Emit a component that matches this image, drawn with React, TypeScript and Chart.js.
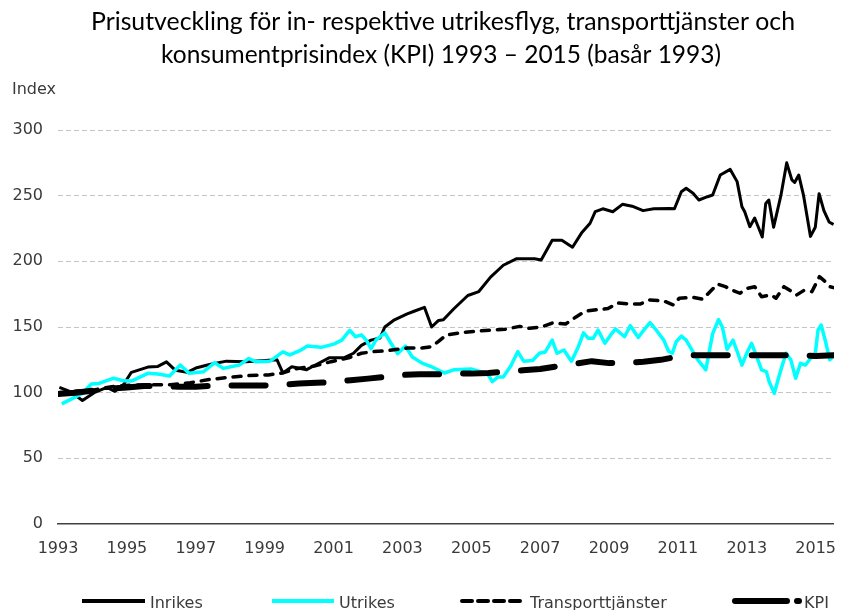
import React, { useEffect, useRef } from "react";
import { Chart, registerables } from "chart.js";

Chart.register(...registerables);

const titleLines = [
  "Prisutveckling för in- respektive utrikesflyg, transporttjänster och",
  "konsumentprisindex (KPI) 1993 – 2015 (basår 1993)",
];
const yAxisLabel = "Index";
const seriesNames = ["Inrikes", "Utrikes", "Transporttjänster", "KPI"];
const xTickYears = [1993, 1995, 1997, 1999, 2001, 2003, 2005, 2007, 2009, 2011, 2013, 2015];
const yMin = 0;
const yMax = 300;
const yStep = 50;

const inrikesYears = [1993.04, 1993.34, 1993.71, 1994.05, 1994.42, 1994.65, 1994.9, 1995.13, 1995.61, 1995.9, 1996.15, 1996.41, 1996.75, 1997.03, 1997.4, 1997.89, 1998.45, 1999.02, 1999.36, 1999.53, 1999.79, 2000.22, 2000.53, 2000.87, 2001.3, 2001.58, 2001.81, 2002.09, 2002.35, 2002.49, 2002.77, 2003.14, 2003.34, 2003.64, 2003.85, 2004.05, 2004.19, 2004.48, 2004.9, 2005.22, 2005.56, 2005.93, 2006.32, 2006.84, 2007.03, 2007.35, 2007.63, 2007.94, 2008.2, 2008.45, 2008.6, 2008.82, 2009.11, 2009.39, 2009.67, 2009.99, 2010.3, 2010.76, 2010.9, 2011.1, 2011.24, 2011.44, 2011.61, 2011.86, 2012.01, 2012.23, 2012.52, 2012.72, 2012.86, 2012.94, 2013.09, 2013.23, 2013.45, 2013.55, 2013.64, 2013.78, 2013.99, 2014.16, 2014.31, 2014.39, 2014.51, 2014.65, 2014.85, 2014.99, 2015.1, 2015.24, 2015.39, 2015.52];
const inrikesValues = [104, 101, 94, 100, 104, 101, 106, 115.5, 119.5, 120, 123.5, 117, 115.5, 119, 121.5, 124, 123.5, 124.5, 125, 115, 119.8, 117.5, 121.8, 126.5, 126.5, 130, 136, 140, 141.6, 150, 155.5, 160, 162, 165, 150, 155, 155.5, 163.5, 174, 177, 188, 197, 202, 202, 201, 216, 216, 210.7, 221.5, 229, 237.8, 240, 237.8, 243.4, 242, 238.6, 240, 240.3, 240, 253, 255.6, 251.8, 246.7, 249.2, 250.5, 265.7, 270, 260.7, 241.6, 237.8, 226.4, 233, 218.5, 244, 246.7, 226, 250, 275, 262, 260, 265.7, 250, 219, 226, 251.5, 238.6, 230, 228];

const utrikesYears = [1993.11, 1993.71, 1993.97, 1994.19, 1994.62, 1994.9, 1995.13, 1995.61, 1995.9, 1996.24, 1996.55, 1996.81, 1997.23, 1997.55, 1997.8, 1998.26, 1998.54, 1998.74, 1999.16, 1999.53, 1999.73, 2000.02, 2000.24, 2000.64, 2001.01, 2001.24, 2001.47, 2001.64, 2001.81, 2001.95, 2002.09, 2002.23, 2002.49, 2002.66, 2002.86, 2003.09, 2003.28, 2003.57, 2003.91, 2004.22, 2004.51, 2004.99, 2005.27, 2005.47, 2005.61, 2005.78, 2005.93, 2006.15, 2006.35, 2006.52, 2006.78, 2006.98, 2007.15, 2007.35, 2007.49, 2007.69, 2007.91, 2008.11, 2008.26, 2008.4, 2008.54, 2008.68, 2008.88, 2009.05, 2009.19, 2009.45, 2009.62, 2009.85, 2010.02, 2010.19, 2010.39, 2010.59, 2010.73, 2010.84, 2010.95, 2011.1, 2011.24, 2011.38, 2011.58, 2011.81, 2012.01, 2012.18, 2012.29, 2012.43, 2012.6, 2012.74, 2012.86, 2013.0, 2013.14, 2013.28, 2013.43, 2013.57, 2013.65, 2013.8, 2013.91, 2013.99, 2014.14, 2014.28, 2014.42, 2014.56, 2014.7, 2014.85, 2014.99, 2015.07, 2015.16, 2015.3, 2015.41, 2015.52];
const utrikesValues = [91.5, 99.5, 106.6, 107, 111, 109, 108.8, 114.7, 114.2, 112.7, 121, 114.7, 116, 122.8, 118.5, 121, 126, 123.6, 124, 131, 128.7, 132, 135.5, 134.5, 137, 140, 147.5, 142.6, 144, 140, 133.5, 140, 145.5, 138, 129.7, 135.5, 127.4, 122.5, 119, 115, 117.5, 118, 116, 114.7, 108.4, 112, 112, 120.5, 131.2, 124, 124.5, 130, 131, 140, 130, 132.5, 124, 135, 145.5, 141.4, 141.4, 147.7, 137.6, 144, 148.5, 142.6, 151, 142, 148, 153.3, 147, 140, 131.5, 130, 138.8, 143, 140, 133.8, 125, 117.3, 145, 155.6, 150, 133, 140, 130, 121, 130, 137.6, 128, 117.3, 116, 108.4, 99.5, 110, 117.3, 130, 125, 111, 122.3, 121, 126, 130, 147.7, 151.5, 137.6, 125, 128];

const transportYears = [1993.0, 1993.48, 1994.05, 1994.56, 1995.13, 1995.9, 1996.27, 1996.84, 1997.4, 1997.97, 1998.54, 1999.11, 1999.51, 1999.88, 2000.44, 2000.93, 2001.44, 2001.81, 2002.15, 2002.57, 2003.14, 2003.57, 2003.85, 2004.05, 2004.28, 2004.79, 2005.41, 2005.98, 2006.41, 2006.69, 2007.06, 2007.35, 2007.74, 2008.03, 2008.31, 2008.68, 2008.97, 2009.25, 2009.62, 2009.9, 2010.19, 2010.59, 2010.87, 2011.04, 2011.44, 2011.72, 2011.89, 2012.15, 2012.38, 2012.57, 2012.8, 2013.03, 2013.23, 2013.43, 2013.71, 2013.85, 2014.08, 2014.31, 2014.45, 2014.65, 2014.89, 2015.11, 2015.28, 2015.41, 2015.52];
const transportValues = [100, 101, 102, 104.6, 105.8, 106, 106, 107.6, 110, 111.7, 113, 113.5, 115, 118, 120.3, 123.6, 126.5, 130, 131.2, 132, 134, 134, 135, 139, 144, 146, 147.3, 148.3, 150.5, 149, 150.2, 153, 152.3, 157.5, 162, 163.3, 164, 168.3, 167.5, 167.5, 170.6, 169.8, 166.8, 171.9, 172.6, 171.1, 175.7, 182.7, 180.7, 178.2, 175.7, 179.5, 180.7, 173.1, 174.4, 171.9, 180.7, 176.9, 174.4, 177.7, 176.9, 188.3, 184.5, 180.7, 180];

const kpiYears = [1993.0, 1993.5, 1994.0, 1994.5, 1995.0, 1995.5, 1996.0, 1996.5, 1997.0, 1997.5, 1998.0, 1998.5, 1999.0, 1999.5, 2000.0, 2000.5, 2001.0, 2001.5, 2002.0, 2002.5, 2003.0, 2003.5, 2004.0, 2004.5, 2005.0, 2005.5, 2006.0, 2006.5, 2007.0, 2007.5, 2008.0, 2008.5, 2009.0, 2009.5, 2010.0, 2010.5, 2011.0, 2011.5, 2012.0, 2012.5, 2013.0, 2013.5, 2014.0, 2014.5, 2015.0, 2015.52];
const kpiValues = [99, 100, 101.5, 103, 104, 105, 105, 104.5, 104.5, 105.3, 105.5, 105.5, 105.5, 106, 107, 107.5, 108, 109.5, 110.7, 112, 113.5, 114, 114, 114.5, 114.5, 115, 116, 117, 118, 120, 122, 124, 122.5, 122.5, 123.5, 125, 127.5, 128.5, 128.5, 128.5, 128.5, 128.5, 128.5, 128.5, 128, 128.5];

function toPoints(xs: number[], ys: number[]) {
  const n = Math.min(xs.length, ys.length);
  const pts: { x: number; y: number }[] = [];
  for (let i = 0; i < n; i++) pts.push({ x: xs[i], y: ys[i] });
  return pts;
}

const TICK_FONT = "DejaVu Sans";
const TEXT_COLOR = "#3a3a3a";

const legendStyles = [
  { startX: 82, sample: 63, dash: [] as number[], cap: "butt" as CanvasLineCap },
  { startX: 272, sample: 62, dash: [] as number[], cap: "butt" as CanvasLineCap },
  { startX: 462, sample: 63, dash: [10, 6], cap: "round" as CanvasLineCap },
  { startX: 735, sample: 64, dash: [52, 10], cap: "round" as CanvasLineCap },
];

const decorPlugin = {
  id: "decor",
  afterDraw(chart: any) {
    const ctx: CanvasRenderingContext2D = chart.ctx;
    ctx.save();
    // Title
    ctx.fillStyle = "#000";
    ctx.textAlign = "center";
    ctx.textBaseline = "alphabetic";
    ctx.font = "25px Lato";
    ctx.fillText(titleLines[0], 443, 30, 704);
    ctx.fillText(titleLines[1], 441, 63, 560);
    // y label
    ctx.textAlign = "left";
    ctx.fillStyle = TEXT_COLOR;
    ctx.font = `16px "${TICK_FONT}"`;
    ctx.fillText(yAxisLabel, 12, 94);
    // Legend
    const ly = 601;
    chart.data.datasets.forEach((ds: any, i: number) => {
      const st = legendStyles[i];
      ctx.save();
      ctx.strokeStyle = ds.borderColor;
      ctx.lineWidth = i === 3 ? 6 : 4;
      ctx.lineCap = st.cap;
      ctx.setLineDash(st.dash);
      ctx.beginPath();
      ctx.moveTo(st.startX, ly);
      ctx.lineTo(st.startX + st.sample, ly);
      ctx.stroke();
      ctx.restore();
      ctx.fillStyle = TEXT_COLOR;
      ctx.font = `16px "${TICK_FONT}"`;
      ctx.textAlign = "left";
      ctx.fillText(ds.label, st.startX + st.sample + 5, 608);
    });
    ctx.restore();
  },
};

export default function App() {
  const ref = useRef<HTMLCanvasElement>(null);
  useEffect(() => {
    document.body.style.margin = "0";
    document.body.style.overflow = "hidden";
    const canvas = ref.current;
    if (!canvas) return;
    const chart = new Chart(canvas, {
      type: "line",
      data: {
        datasets: [
          {
            label: seriesNames[0],
            data: toPoints(inrikesYears, inrikesValues),
            borderColor: "#000000",
            borderWidth: 3,
            pointRadius: 0,
            borderJoinStyle: "round",
            order: 3,
          },
          {
            label: seriesNames[1],
            data: toPoints(utrikesYears, utrikesValues),
            borderColor: "#00FFFF",
            borderWidth: 3.5,
            pointRadius: 0,
            borderJoinStyle: "round",
            order: 2,
          },
          {
            label: seriesNames[2],
            data: toPoints(transportYears, transportValues),
            borderColor: "#000000",
            borderWidth: 3.5,
            borderDash: [8, 8],
            borderCapStyle: "round",
            pointRadius: 0,
            borderJoinStyle: "round",
            order: 1,
          },
          {
            label: seriesNames[3],
            data: toPoints(kpiYears, kpiValues),
            borderColor: "#000000",
            borderWidth: 6,
            borderDash: [34, 24],
            borderCapStyle: "round",
            pointRadius: 0,
            borderJoinStyle: "round",
            order: 0,
          },
        ],
      } as any,
      options: {
        responsive: false,
        animation: false,
        devicePixelRatio: 1,
        layout: { padding: { top: 130, left: 0, right: 0, bottom: 46 } },
        plugins: {
          legend: { display: false },
          title: { display: false },
          tooltip: { enabled: false },
        },
        scales: {
          x: {
            type: "linear",
            min: 1993,
            max: 2015.53,
            afterBuildTicks: (s: any) => {
              s.ticks = xTickYears.map((v) => ({ value: v }));
            },
            afterFit: (s: any) => {
              s.height = 40;
            },
            ticks: {
              callback: (v: any) => String(v),
              font: { family: TICK_FONT, size: 16 },
              color: TEXT_COLOR,
              padding: 15,
              autoSkip: false,
              maxRotation: 0,
            },
            grid: { display: false, drawTicks: false },
            border: { display: true, color: "#404040", width: 1.5 },
          },
          y: {
            min: yMin,
            max: yMax,
            afterFit: (s: any) => {
              s.width = 58;
            },
            ticks: {
              stepSize: yStep,
              font: { family: TICK_FONT, size: 16 },
              color: TEXT_COLOR,
              padding: 15,
            },
            grid: {
              drawTicks: false,
              lineWidth: 1,
              color: (c: any) => (c.tick && c.tick.value === 0 ? "rgba(0,0,0,0)" : "#c4c4c4"),
            },
            border: { display: false, dash: [5, 3] },
          },
        },
      } as any,
      plugins: [decorPlugin],
    });
    return () => chart.destroy();
  }, []);
  return (
    <div style={{ width: 851, height: 610, overflow: "hidden" }}>
      <canvas ref={ref} width={851} height={610} style={{ display: "block" }} />
    </div>
  );
}
